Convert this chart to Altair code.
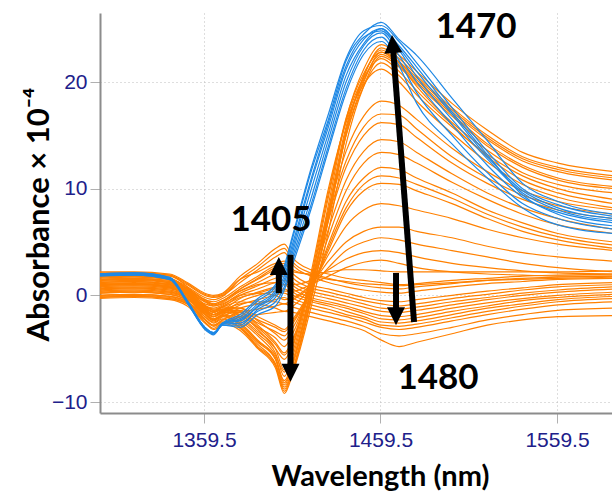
import altair as alt
import pandas as pd

# Wavelength grid (nm)
wavelength = [1300, 1320, 1340, 1350, 1360, 1365, 1370, 1380, 1390, 1400, 1405, 1410,
              1420, 1430, 1440, 1450, 1460, 1470, 1480, 1500, 1520, 1540, 1560, 1592]

# Blue spectra (absorbance x 1e-4)
blue_1 = [2.0, 2.1, 1.7, -0.5, -3.0, -3.6, -2.7, -2.0, -0.5, 0.8, 2.5, 5.5, 11.5, 16.5, 22.0, 24.5, 25.6, 24.0, 22.5, 18.5, 14.5, 10.5, 8.8, 7.6]
blue_2 = [1.9, 2.0, 1.6, -0.6, -3.1, -3.5, -2.6, -2.4, -1.0, 0.3, 1.8, 4.6, 10.5, 15.8, 21.2, 24.0, 25.0, 23.2, 21.0, 17.0, 13.0, 9.8, 8.2, 7.2]
blue_3 = [1.8, 1.9, 1.5, -0.7, -3.2, -3.7, -2.8, -2.8, -1.3, -0.2, 1.2, 3.8, 9.0, 14.6, 20.0, 23.4, 24.6, 22.5, 20.0, 16.0, 12.2, 9.2, 7.8, 6.8]
blue_4 = [2.0, 2.0, 1.6, -0.6, -3.0, -3.5, -2.6, -1.8, -0.3, 1.0, 2.8, 5.8, 11.8, 17.0, 22.2, 24.8, 25.3, 23.8, 21.8, 17.6, 13.5, 10.0, 8.5, 7.4]
blue_5 = [1.9, 2.0, 1.6, -0.6, -3.1, -3.6, -2.7, -2.6, -1.5, -0.6, 0.8, 3.4, 8.4, 14.0, 19.4, 23.0, 24.2, 22.0, 19.0, 15.0, 11.5, 8.6, 7.2, 6.2]
blue_6 = [2.0, 2.1, 1.7, -0.5, -3.0, -3.5, -2.6, -2.2, -0.8, 0.5, 2.2, 5.0, 10.8, 16.2, 21.5, 24.2, 24.8, 23.0, 20.5, 16.5, 12.8, 9.6, 8.0, 7.0]
blue_7 = [1.9, 1.9, 1.5, -0.7, -3.1, -3.6, -2.8, -3.0, -1.8, -1.0, 0.5, 3.0, 8.0, 13.6, 19.0, 22.6, 23.8, 21.5, 18.0, 14.2, 11.0, 8.2, 6.6, 5.8]
blue_8 = [2.0, 2.0, 1.6, -0.6, -3.0, -3.6, -2.7, -2.3, -1.1, 0.1, 1.5, 4.2, 9.8, 15.2, 20.6, 23.6, 25.0, 23.4, 21.4, 17.2, 13.2, 9.4, 7.6, 6.5]

# Orange spectra: high 1470 peak
orange_a1 = [0.5, 0.6, 0.4, -0.2, -2.0, -2.6, -2.2, -3.0, -4.6, -6.5, -9.0, -7.0, -0.6, 7.5, 15.5, 20.5, 23.2, 22.2, 20.6, 17.6, 15.0, 13.0, 12.0, 11.2]
orange_a2 = [1.2, 1.3, 1.0, 0.2, -1.6, -2.2, -1.8, -2.6, -4.2, -6.0, -8.4, -6.4, 0.2, 8.5, 16.5, 21.2, 23.5, 22.5, 21.0, 18.0, 15.5, 13.4, 12.4, 11.6]
orange_a3 = [-0.2, -0.1, -0.3, -0.8, -2.5, -3.1, -2.6, -3.3, -5.0, -6.8, -9.2, -7.2, -1.2, 6.0, 14.2, 19.6, 22.4, 21.4, 19.8, 16.8, 14.0, 12.0, 10.8, 10.0]
orange_a4 = [1.8, 1.9, 1.6, 0.6, -1.2, -1.8, -1.5, -2.2, -3.6, -5.4, -7.6, -5.6, 1.2, 9.2, 16.6, 20.8, 22.8, 21.6, 19.6, 16.2, 13.6, 11.5, 10.4, 9.6]
orange_a5 = [0.8, 0.9, 0.7, 0.0, -1.8, -2.4, -2.0, -2.8, -4.4, -6.0, -8.0, -6.0, 0.6, 7.8, 15.0, 19.6, 21.8, 20.6, 18.8, 15.8, 13.2, 11.2, 10.0, 9.0]
orange_a6 = [1.5, 1.6, 1.3, 0.4, -1.4, -2.0, -1.7, -2.4, -3.8, -5.6, -7.2, -5.2, 1.6, 9.6, 16.4, 20.4, 22.2, 21.0, 19.2, 16.0, 13.0, 10.8, 9.6, 8.6]
orange_a7 = [0.2, 0.3, 0.1, -0.5, -2.2, -2.8, -2.4, -3.0, -4.8, -6.4, -8.6, -6.8, -0.2, 7.0, 15.2, 20.6, 23.0, 21.8, 20.2, 17.2, 14.6, 12.6, 11.6, 10.8]
orange_a8 = [2.1, 2.1, 1.9, 0.8, -1.0, -1.6, -1.3, -2.0, -3.4, -5.0, -7.0, -4.8, 2.0, 10.0, 16.2, 19.8, 21.2, 20.0, 18.2, 15.2, 12.5, 10.4, 9.2, 8.2]
orange_a9 = [1.0, 1.1, 0.8, 0.1, -1.7, -2.3, -1.9, -2.7, -4.3, -5.8, -8.2, -6.2, 0.4, 8.0, 15.8, 20.2, 22.6, 21.6, 20.0, 17.0, 14.2, 12.2, 11.0, 10.2]
orange_a10 = [0.0, 0.1, -0.1, -0.6, -2.3, -2.9, -2.5, -3.1, -4.9, -6.6, -8.8, -6.9, -0.4, 7.2, 15.0, 20.0, 22.8, 21.9, 20.4, 17.4, 14.8, 12.8, 11.8, 11.0]
# Orange spectra: medium peak
orange_b1 = [1.0, 1.1, 0.9, 0.2, -1.5, -2.0, -1.6, -1.8, -3.2, -5.0, -6.0, -4.5, 1.5, 8.0, 13.5, 16.8, 18.2, 17.8, 16.5, 13.8, 11.6, 9.8, 8.8, 8.0]
orange_b2 = [1.4, 1.5, 1.2, 0.4, -1.2, -1.6, -1.3, -1.5, -2.8, -4.4, -5.4, -4.0, 1.0, 7.0, 12.0, 15.0, 16.2, 16.0, 14.8, 12.4, 10.5, 9.0, 8.0, 7.2]
orange_b3 = [0.4, 0.5, 0.3, -0.3, -1.8, -2.3, -1.9, -2.0, -3.0, -4.0, -4.8, -3.5, 0.8, 6.2, 10.8, 13.5, 14.6, 14.4, 13.4, 11.4, 9.6, 8.2, 7.2, 6.2]
orange_b4 = [1.7, 1.8, 1.5, 0.6, -0.9, -1.4, -1.1, -1.2, -2.4, -3.6, -4.2, -3.0, 0.6, 5.5, 9.8, 12.4, 13.4, 13.2, 12.4, 10.6, 9.0, 7.6, 6.6, 5.8]
orange_b5 = [0.7, 0.8, 0.6, 0.0, -1.5, -2.0, -1.6, -1.6, -2.6, -3.4, -3.8, -2.6, 0.4, 4.8, 8.8, 11.0, 12.0, 11.8, 11.0, 9.6, 8.0, 6.8, 5.8, 5.0]
orange_b6 = [1.1, 1.2, 1.0, 0.3, -1.1, -1.6, -1.3, -1.2, -2.0, -2.8, -3.2, -2.2, 0.5, 4.2, 7.8, 9.8, 10.5, 10.4, 9.8, 8.6, 7.2, 6.0, 5.2, 4.4]
orange_b7 = [1.2, 1.3, 1.0, 0.3, -1.3, -1.8, -1.4, -1.6, -3.0, -4.6, -5.6, -4.2, 1.2, 7.4, 12.6, 15.8, 17.0, 16.9, 15.6, 13.0, 11.0, 9.4, 8.4, 7.6]
orange_b8 = [0.9, 1.0, 0.8, 0.1, -1.3, -1.8, -1.5, -1.4, -2.3, -3.0, -3.4, -2.4, 0.4, 4.5, 8.2, 10.4, 11.2, 11.0, 10.4, 9.1, 7.6, 6.4, 5.5, 4.7]
# Orange spectra: low peak
orange_c1 = [0.9, 1.0, 0.8, 0.2, -1.0, -1.4, -1.1, -0.6, -0.8, -1.2, -1.5, -1.0, 0.8, 3.8, 6.5, 8.0, 8.6, 8.4, 8.0, 7.2, 6.2, 5.4, 4.8, 4.2]
orange_c2 = [1.3, 1.4, 1.2, 0.5, -0.6, -1.0, -0.8, 0.0, 0.2, 0.0, -0.4, -0.2, 1.0, 3.2, 5.0, 6.0, 6.4, 6.4, 6.0, 5.4, 4.6, 4.0, 3.6, 3.2]
orange_c3 = [0.3, 0.4, 0.2, -0.3, -1.4, -1.8, -1.4, -0.8, -0.6, -0.6, -0.8, -0.4, 0.8, 2.6, 4.2, 5.0, 5.4, 5.2, 4.8, 4.2, 3.6, 3.0, 2.6, 2.2]
orange_c4 = [1.6, 1.7, 1.5, 0.7, -0.4, -0.8, -0.5, 0.4, 1.0, 1.2, 1.0, 1.0, 1.4, 2.4, 3.4, 4.0, 4.2, 4.0, 3.6, 3.0, 2.6, 2.3, 2.1, 2.0]
orange_c5 = [0.6, 0.7, 0.5, 0.0, -1.0, -1.3, -1.0, -0.2, 0.2, 0.6, 0.4, 0.4, 1.0, 1.8, 2.6, 3.1, 3.3, 3.0, 2.6, 2.2, 2.0, 1.9, 1.8, 1.8]
orange_c6 = [1.4, 1.5, 1.3, 0.6, -0.5, -0.9, -0.6, 0.6, 1.6, 2.6, 2.8, 2.2, 2.0, 2.2, 2.4, 2.4, 2.3, 2.2, 2.2, 2.2, 2.2, 2.2, 2.2, 2.3]
# Orange spectra: dense low band
orange_d1 = [2.2, 2.2, 2.0, 1.2, 0.2, 0.0, 0.2, 1.8, 3.0, 4.4, 4.8, 3.5, 2.4, 2.0, 1.6, 1.4, 1.2, 1.0, 1.1, 1.4, 1.6, 1.8, 1.9, 2.0]
orange_d2 = [1.9, 2.0, 1.8, 1.0, 0.0, -0.2, 0.0, 1.2, 2.4, 3.6, 4.0, 2.8, 1.8, 1.2, 0.8, 0.5, 0.3, 0.2, 0.4, 0.8, 1.1, 1.3, 1.5, 1.6]
orange_d3 = [1.5, 1.6, 1.4, 0.6, -0.4, -0.6, -0.3, 0.8, 1.8, 2.8, 3.0, 2.0, 1.0, 0.6, 0.2, -0.2, -0.5, -0.6, -0.4, 0.0, 0.4, 0.7, 1.0, 1.2]
orange_d4 = [1.0, 1.1, 0.9, 0.3, -0.8, -1.0, -0.7, 0.4, 1.2, 2.0, 2.2, 1.2, 0.4, 0.0, -0.4, -0.8, -1.2, -1.3, -1.1, -0.6, -0.2, 0.2, 0.5, 0.8]
orange_d5 = [0.6, 0.7, 0.5, -0.1, -1.2, -1.5, -1.1, 0.0, 0.6, 1.2, 1.4, 0.6, -0.2, -0.6, -1.0, -1.5, -1.9, -2.0, -1.8, -1.2, -0.7, -0.3, 0.0, 0.3]
orange_d6 = [0.2, 0.3, 0.1, -0.4, -1.6, -2.0, -1.6, -0.6, 0.0, 0.4, 0.6, 0.0, -0.6, -1.0, -1.5, -2.0, -2.5, -2.6, -2.4, -1.8, -1.2, -0.8, -0.4, -0.1]
orange_d7 = [-0.1, 0.0, -0.2, -0.7, -2.0, -2.5, -2.0, -1.2, -0.8, -0.4, -0.2, -0.6, -1.2, -1.6, -2.0, -2.5, -3.0, -3.2, -3.0, -2.4, -1.8, -1.3, -0.9, -0.6]
orange_d8 = [-0.3, -0.2, -0.4, -1.0, -2.6, -3.2, -2.7, -2.0, -1.8, -1.6, -1.5, -1.6, -2.0, -2.4, -2.8, -3.3, -4.2, -4.8, -4.4, -3.6, -2.8, -2.3, -2.0, -1.9]
orange_d9 = [1.7, 1.8, 1.6, 0.8, -0.2, -0.4, -0.1, 1.5, 2.7, 4.0, 4.4, 3.1, 2.1, 1.6, 1.2, 0.9, 0.7, 0.6, 0.8, 1.1, 1.4, 1.6, 1.7, 1.8]
orange_d10 = [1.2, 1.3, 1.1, 0.4, -0.6, -0.8, -0.5, 0.6, 1.5, 2.4, 2.6, 1.6, 0.7, 0.3, -0.1, -0.5, -0.8, -1.0, -0.8, -0.3, 0.1, 0.5, 0.8, 1.0]
orange_d11 = [0.8, 0.9, 0.7, 0.1, -1.0, -1.2, -0.9, 0.2, 0.9, 1.6, 1.8, 0.9, 0.1, -0.3, -0.7, -1.1, -1.5, -1.6, -1.4, -0.9, -0.4, 0.0, 0.3, 0.6]
orange_d12 = [0.4, 0.5, 0.3, -0.2, -1.4, -1.8, -1.4, -0.3, 0.3, 0.8, 1.0, 0.3, -0.4, -0.8, -1.2, -1.7, -2.2, -2.3, -2.1, -1.5, -1.0, -0.5, -0.2, 0.1]
orange_d13 = [0.0, 0.1, -0.1, -0.6, -1.8, -2.2, -1.8, -0.9, -0.4, 0.0, 0.2, -0.3, -0.9, -1.3, -1.8, -2.2, -2.8, -2.9, -2.7, -2.1, -1.5, -1.0, -0.6, -0.3]
orange_d14 = [-0.2, -0.1, -0.3, -0.8, -2.3, -2.8, -2.3, -1.6, -1.3, -1.0, -0.8, -1.1, -1.6, -2.0, -2.4, -2.9, -3.6, -3.8, -3.6, -3.0, -2.3, -1.8, -1.4, -1.2]
orange_d15 = [2.0, 2.1, 1.9, 1.1, 0.1, -0.1, 0.1, 1.5, 2.2, 3.0, 3.2, 2.4, 1.9, 1.5, 1.3, 1.1, 1.0, 0.9, 1.0, 1.2, 1.4, 1.5, 1.6, 1.7]

blue_curves = [blue_1, blue_2, blue_3, blue_4, blue_5, blue_6, blue_7, blue_8]
orange_curves = [orange_a1, orange_a2, orange_a3, orange_a4, orange_a5, orange_a6, orange_a7, orange_a8,
                 orange_a9, orange_a10,
                 orange_b1, orange_b2, orange_b3, orange_b4, orange_b5, orange_b6, orange_b7, orange_b8,
                 orange_c1, orange_c2, orange_c3, orange_c4, orange_c5, orange_c6,
                 orange_d1, orange_d2, orange_d3, orange_d4, orange_d5, orange_d6, orange_d7, orange_d8,
                 orange_d9, orange_d10, orange_d11, orange_d12, orange_d13, orange_d14, orange_d15]

x_ticks = [1359.5, 1459.5, 1559.5]
y_ticks = [-10, 0, 10, 20]

# annotations (data coordinates)
label_text = ["1405", "1470", "1480"]
label_x = [1397.5, 1513.6, 1492.1]
label_y = [7.1, 25.15, -7.75]

shaft_x = [1401.9, 1408.5, 1478.5, 1468.3]
shaft_y = [0.2, 3.8, -2.5, 2.1]
shaft_x2 = [1401.9, 1408.5, 1466.6, 1468.3]
shaft_y2 = [2.6, -6.9, 23.2, -1.6]
head_x = [1401.9, 1408.5, 1466.0, 1468.3]
head_y = [3.6, -8.1, 24.4, -2.8]
head_dir = ["up", "down", "up", "down"]
head_angle = [0, 0, 355.6, 0]


def long_frame(curves, prefix):
    rows = []
    for i, c in enumerate(curves):
        for w, v in zip(wavelength, c):
            rows.append({"curve": f"{prefix}{i}", "wl": w, "abs": v})
    return pd.DataFrame(rows)


orange_df = long_frame(orange_curves, "o")
blue_df = long_frame(blue_curves, "b")

x_scale = alt.Scale(domain=[1300.58, 1590.66], nice=False, zero=False)
y_scale = alt.Scale(domain=[-11.03, 26.47], nice=False, zero=False)

tick_color = "#20208a"
x_axis = alt.Axis(values=x_ticks, format=".1f", title="Wavelength (nm)",
                  titleX=280, titleY=72, titleBaseline="alphabetic", titleAlign="center",
                  titleFont="Lato", titleFontSize=29, titleFontWeight="bold", titleColor="#000000",
                  labelFont="Liberation Sans", labelFontSize=21, labelColor=tick_color,
                  labelPadding=6, tickSize=10, tickColor="#b0b0b0", domainColor="#8c8c8c",
                  domainWidth=2, grid=True, gridColor="#bdbdbd", gridDash=[1, 3])
y_axis = alt.Axis(values=y_ticks, format="d", title="Absorbance × 10⁻⁴",
                  titleX=-61, titleY=201, titleAngle=270, titleBaseline="middle", titleAlign="center",
                  titleFont="Lato", titleFontSize=31, titleFontWeight="bold", titleColor="#000000",
                  labelFont="Liberation Sans", labelFontSize=21, labelColor=tick_color,
                  labelPadding=3, tickSize=10, tickColor="#b0b0b0", domainColor="#8c8c8c",
                  domainWidth=2, grid=True, gridColor="#bdbdbd", gridDash=[1, 3])

orange = alt.Chart(orange_df).mark_line(color="#ff8000", strokeWidth=1.2, clip=True,
                                        interpolate="monotone").encode(
    x=alt.X("wl:Q", scale=x_scale, axis=x_axis),
    y=alt.Y("abs:Q", scale=y_scale, axis=y_axis),
    detail="curve:N",
)
blue = alt.Chart(blue_df).mark_line(color="#1e88e5", strokeWidth=1.2, clip=True,
                                    interpolate="monotone").encode(
    x=alt.X("wl:Q", scale=x_scale),
    y=alt.Y("abs:Q", scale=y_scale),
    detail="curve:N",
)

labels_df = pd.DataFrame({"t": label_text, "x": label_x, "y": label_y})
labels = alt.Chart(labels_df).mark_text(font="Lato", fontSize=35, fontWeight="bold",
                                        color="#000000", align="center", baseline="middle").encode(
    x=alt.X("x:Q", scale=x_scale), y=alt.Y("y:Q", scale=y_scale), text="t:N")

shaft_df = pd.DataFrame({"x": shaft_x, "y": shaft_y, "x2": shaft_x2, "y2": shaft_y2})
shafts = alt.Chart(shaft_df).mark_rule(color="#000000", strokeWidth=6, strokeCap="butt").encode(
    x=alt.X("x:Q", scale=x_scale), y=alt.Y("y:Q", scale=y_scale), x2="x2:Q", y2="y2:Q")

head_df = pd.DataFrame({"x": head_x, "y": head_y, "d": head_dir, "a": head_angle})
up_path = "M0,0L1,2L-1,2Z"
down_path = "M0,0L1,-2L-1,-2Z"
heads_up = alt.Chart(head_df).transform_filter(alt.datum.d == "up").mark_point(
    shape=up_path, size=324, filled=True, color="#000000", opacity=1).encode(
    x=alt.X("x:Q", scale=x_scale), y=alt.Y("y:Q", scale=y_scale),
    angle=alt.Angle("a:Q", scale=None))
heads_down = alt.Chart(head_df).transform_filter(alt.datum.d == "down").mark_point(
    shape=down_path, size=324, filled=True, color="#000000", opacity=1).encode(
    x=alt.X("x:Q", scale=x_scale), y=alt.Y("y:Q", scale=y_scale),
    angle=alt.Angle("a:Q", scale=None))

chart = alt.layer(orange, blue, shafts, heads_up, heads_down, labels).properties(
    width=512, height=400,
    autosize=alt.AutoSizeParams(type="none"),
    padding={"left": 100, "top": 13, "right": 0, "bottom": 80},
    background="#ffffff",
).configure_view(stroke=None)

chart.save("out.html", embed_options={"renderer": "svg", "actions": False})
